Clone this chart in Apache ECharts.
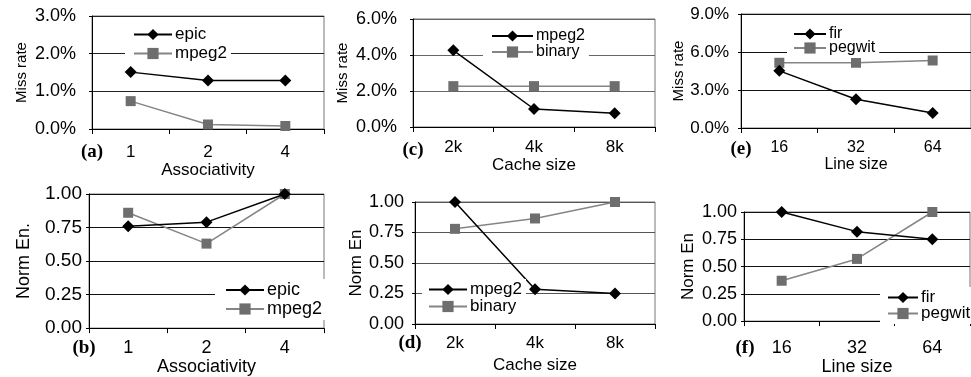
<!DOCTYPE html>
<html>
<head>
<meta charset="utf-8">
<script src="https://cdn.jsdelivr.net/npm/echarts@6/dist/echarts.min.js"></script>
<style>
  html, body { margin: 0; padding: 0; background: #fff; }
  #chart { width: 971px; height: 377px; }
</style>
</head>
<body>
<div id="chart"></div>
<script>
// categories
const assocCats = ['1', '2', '4'];
const cacheCats = ['2k', '4k', '8k'];
const lineCats = ['16', '32', '64'];

// miss rate (%)
const epicMissA = [1.51, 1.29, 1.29];
const mpeg2MissA = [0.74, 0.12, 0.08];
const mpeg2MissC = [4.26, 1.0, 0.76];
const binaryMissC = [2.27, 2.27, 2.27];
const firMissE = [4.51, 2.27, 1.19];
const pegwitMissE = [5.15, 5.15, 5.33];

// normalised energy
const epicEnB = [0.76, 0.79, 1.0];
const mpeg2EnB = [0.86, 0.63, 1.0];
const mpeg2EnD = [1.0, 0.285, 0.25];
const binaryEnD = [0.78, 0.865, 1.0];
const firEnF = [1.0, 0.82, 0.75];
const pegwitEnF = [0.37, 0.57, 1.0];

const FONT = '"Liberation Sans", Arial, sans-serif';
const BLACK = '#000';
const GREY_LINE = '#858585';
const GREY_MARK = '#6e6e6e';

const panels = [
  {
    tag: '(a)', tagPos: [92, 152],
    grid: { left: 92, top: 16, width: 232, height: 113 },
    cats: assocCats, xName: 'Associativity', xFont: 17, xMargin: 15, xGap: 30,
    yName: 'Miss rate', yNameFont: 15, yGap: 63, yFont: 18, yMargin: 16,
    yMax: 3, yStep: 1, pct: true, gridColor: '#222',
    s1: ['epic', epicMissA], s2: ['mpeg2', mpeg2MissA],
    legend: { left: 125, top: 24, font: 17, itemWidth: 38, gap: 2, padL: 8 }
  },
  {
    tag: '(b)', tagPos: [84, 348],
    grid: { left: 89, top: 194, width: 235, height: 135 },
    cats: assocCats, xName: 'Associativity', xFont: 18, xMargin: 11, xGap: 25,
    yName: 'Norm En.', yNameFont: 18, yGap: 56, yFont: 19, yMargin: 7,
    yMax: 1, yStep: 0.25, pct: false, gridColor: '#111',
    s1: ['epic', epicEnB], s2: ['mpeg2', mpeg2EnB],
    legend: { left: 215, top: 279, font: 18, itemWidth: 38, gap: 1, padL: 10 }
  },
  {
    tag: '(c)', tagPos: [413, 150],
    grid: { left: 413, top: 19, width: 242, height: 108 },
    cats: cacheCats, xName: 'Cache size', xFont: 17, xMargin: 12, xGap: 26,
    yName: 'Miss rate', yNameFont: 15, yGap: 63, yFont: 18, yMargin: 16,
    yMax: 6, yStep: 2, pct: true, gridColor: '#666',
    s1: ['mpeg2', mpeg2MissC], s2: ['binary', binaryMissC],
    legend: { left: 483, top: 26, font: 16, itemWidth: 41, gap: 0, padL: 8 }
  },
  {
    tag: '(d)', tagPos: [410, 343],
    grid: { left: 415, top: 202, width: 240, height: 122 },
    cats: cacheCats, xName: 'Cache size', xFont: 17, xMargin: 11, xGap: 33,
    yName: 'Norm En', yNameFont: 17, yGap: 50, yFont: 18, yMargin: 11,
    yMax: 1, yStep: 0.25, pct: false, gridColor: '#555',
    s1: ['mpeg2', mpeg2EnD], s2: ['binary', binaryEnD],
    legend: { left: 422, top: 279, font: 17, itemWidth: 38, gap: 0, padL: 6 }
  },
  {
    tag: '(e)', tagPos: [741, 149],
    grid: { left: 741, top: 14, width: 230, height: 114 },
    cats: lineCats, xName: 'Line size', xFont: 16, xMargin: 12, xGap: 23,
    yName: 'Miss rate', yNameFont: 15, yGap: 54, yFont: 17, yMargin: 12,
    yMax: 9, yStep: 3, pct: true, gridColor: '#111',
    s1: ['fir', firMissE], s2: ['pegwit', pegwitMissE],
    legend: { left: 787, top: 24, font: 16, itemWidth: 32, gap: -2, padL: 6 }
  },
  {
    tag: '(f)', tagPos: [745, 348],
    grid: { left: 744, top: 212, width: 226, height: 113 },
    cats: lineCats, xName: 'Line size', xFont: 18, xMargin: 18, xGap: 31,
    yName: 'Norm En', yNameFont: 17, yGap: 47, yFont: 18, yMargin: 7,
    yMax: 1, yStep: 0.25, pct: false, gridColor: '#111',
    s1: ['fir', firEnF], s2: ['pegwit', pegwitEnF],
    legend: { left: 880, top: 287, font: 17, itemWidth: 30, gap: -1, padL: 7 }
  }
];

const grids = [], xAxes = [], yAxes = [], series = [], legends = [], texts = [];

panels.forEach((p, i) => {
  grids.push(Object.assign({
    show: true, borderColor: '#777', borderWidth: 1, backgroundColor: 'transparent'
  }, p.grid));

  xAxes.push({
    gridIndex: i, type: 'category', data: p.cats, boundaryGap: true,
    axisLine: { lineStyle: { color: BLACK, width: 1 } },
    axisTick: { show: true, length: 5, lineStyle: { color: BLACK } },
    axisLabel: { color: BLACK, fontSize: p.xFont, fontFamily: FONT, margin: p.xMargin },
    name: p.xName, nameLocation: 'middle', nameGap: p.xGap,
    nameTextStyle: { color: BLACK, fontSize: p.xFont, fontFamily: FONT },
    splitLine: { show: false }
  });

  yAxes.push({
    gridIndex: i, type: 'value', min: 0, max: p.yMax, interval: p.yStep,
    axisLine: { show: true, lineStyle: { color: BLACK, width: 1 } },
    axisTick: { show: true, length: 3, lineStyle: { color: BLACK } },
    axisLabel: {
      color: BLACK, fontSize: p.yFont, fontFamily: FONT, margin: p.yMargin,
      formatter: (v) => p.pct ? v.toFixed(1) + '%' : v.toFixed(2)
    },
    splitLine: { show: true, lineStyle: { color: p.gridColor, width: 1 } },
    name: p.yName, nameLocation: 'middle', nameGap: p.yGap,
    nameTextStyle: { color: BLACK, fontSize: p.yNameFont, fontFamily: FONT }
  });

  const id1 = p.s1[0] + '#' + i;
  const id2 = p.s2[0] + '#' + i;

  // black diamonds
  series.push({
    name: id1, type: 'line', xAxisIndex: i, yAxisIndex: i, data: p.s1[1],
    symbol: 'diamond', symbolSize: [12, 12],
    lineStyle: { color: BLACK, width: 1.5 },
    itemStyle: { color: BLACK },
    z: 4, animation: false
  });
  // grey squares
  series.push({
    name: id2, type: 'line', xAxisIndex: i, yAxisIndex: i, data: p.s2[1],
    symbol: 'rect', symbolSize: 10,
    lineStyle: { color: GREY_LINE, width: 1.5 },
    itemStyle: { color: GREY_MARK },
    z: 3, animation: false
  });

  const lg = p.legend;
  legends.push({
    orient: 'vertical', left: lg.left, top: lg.top,
    data: [id1, id2],
    backgroundColor: '#fff',
    padding: [2, 4, 2, lg.padL],
    itemWidth: lg.itemWidth, itemHeight: 14, itemGap: lg.gap,
    selectedMode: false,
    formatter: (name) => name.split('#')[0],
    textStyle: { color: BLACK, fontSize: lg.font, fontFamily: FONT, lineHeight: lg.font, padding: [0, 0, 0, -2] },
    z: 10
  });

  texts.push({
    type: 'text', x: p.tagPos[0], y: p.tagPos[1],
    style: {
      text: p.tag, fill: BLACK, align: 'center', verticalAlign: 'middle',
      font: 'bold 19px "Liberation Serif", "Times New Roman", serif'
    },
    z: 20
  });
});

const chart = echarts.init(document.getElementById('chart'), null, { renderer: 'canvas' });
chart.setOption({
  animation: false,
  backgroundColor: '#fff',
  grid: grids,
  xAxis: xAxes,
  yAxis: yAxes,
  legend: legends,
  series: series,
  graphic: texts
});
</script>
</body>
</html>
